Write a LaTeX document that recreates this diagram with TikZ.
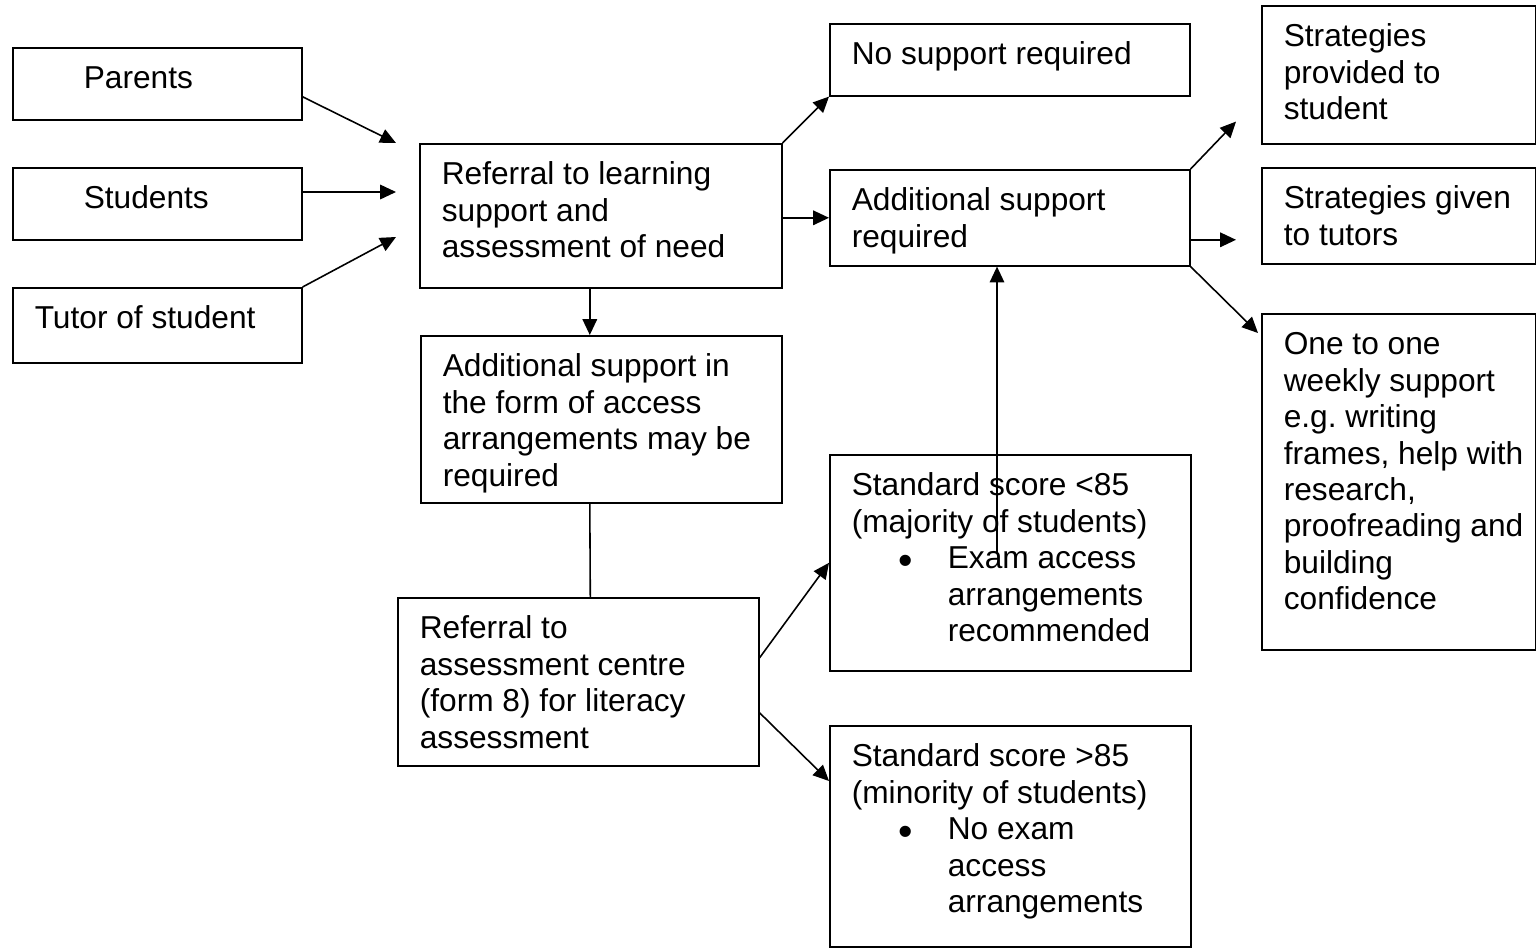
\documentclass[tikz,border=0pt]{standalone}
\usepackage{fontspec}
\setmainfont{Liberation Sans}
\usepackage{tikz}
\usetikzlibrary{arrows.meta, positioning}
\newlength{\px}\setlength{\px}{0.3788pt}
% text of a box: width, height (px), lines
\newcommand{\bx}[3]{\parbox[c][\dimexpr #2\px-31\px\relax][t]{\dimexpr #1\px-44\px\relax}{\begin{tabular}{@{}l@{}}#3\end{tabular}}}
\newcommand{\bulitem}{\makebox[96\px][l]{\hspace*{47\px}\raisebox{-2.2pt}{\scalebox{1.3}{\textbullet}}}}
\newcommand{\bulind}{\hspace*{96\px}}
\newcommand{\drawl}{\draw[line width=0.6pt]}
\tikzset{blk/.style={draw, line width=0.6pt, anchor=north west, inner xsep=22\px, inner ysep=15.5\px, font=\fontsize{12}{13.8}\selectfont}}

\begin{document}
\begin{tikzpicture}[x=1\px, y=-1\px, >={Triangle[length=6pt,width=5.5pt]}]
\useasboundingbox (0,0) rectangle (1536,948);
% Nguon gioi thieu
\node[blk] (parents) at (12,47) {\bx{289}{72}{\hspace*{49\px}Parents}};
\node[blk] (students) at (12,167) {\bx{289}{72}{\hspace*{49\px}Students}};
\node[blk] (tutor) at (12,287) {\bx{289}{75}{Tutor of student}};
% Cot giua
\node[blk] (referral) at (419,143) {\bx{362}{144}{Referral to learning\\ support and\\ assessment of need}};
\node[blk] (access) at (420,335) {\bx{361}{167}{Additional support in\\ the form of access\\ arrangements may be\\ required}};
\node[blk] (centre) at (397,597) {\bx{361}{168}{Referral to\\ assessment centre\\ (form 8) for literacy\\ assessment}};
\node[blk] (nosupport) at (829,23) {\bx{360}{72}{No support required}};
\node[blk] (addsupport) at (829,169) {\bx{360}{96}{Additional support\\ required}};
\node[blk] (low) at (829,454) {\bx{361}{216}{Standard score <85\\ (majority of students)\\ \bulitem Exam access\\ \bulind arrangements\\ \bulind recommended}};
\node[blk] (high) at (829,725) {\bx{361}{221}{Standard score >85\\ (minority of students)\\ \bulitem No exam\\ \bulind access\\ \bulind arrangements}};
% Cot phai
\node[blk] (strat1) at (1261,5) {\bx{274}{138}{Strategies\\ provided to\\ student}};
\node[blk] (strat2) at (1261,167) {\bx{274}{96}{Strategies given\\ to tutors}};
\node[blk] (onetoone) at (1261,313) {\bx{274}{336}{One to one\\ weekly support\\ e.g.\ writing\\ frames, help with\\ research,\\ proofreading and\\ building\\ confidence}};
% Dau mui ten tu do
\coordinate (in1) at ([xshift=-23\px]referral.north west);
\coordinate (in2) at ([xshift=-23\px, yshift=-49\px]referral.north west);
\coordinate (in3) at ([xshift=-23\px, yshift=-94\px]referral.north west);
\coordinate (out1) at ([xshift=-25\px, yshift=23\px]strat1.south west);
\coordinate (out2) at ([xshift=-25\px, yshift=-24\px]strat2.west);
\coordinate (up) at ([xshift=168\px, yshift=-99\px]low.north west);
% Mui ten
\drawl[->] ([yshift=-13\px]parents.east) -- (in1);
\drawl[->] (in2 -| students.east) -- (in2);
\drawl[->] (tutor.north east) -- (in3);
\drawl[->] (referral.north east) -- (nosupport.south west);
\drawl[->] (referral.east |- addsupport.west) -- (addsupport.west);
\drawl[->] ([xshift=-11\px]referral.south) -- ([xshift=-11.5\px]access.north);
\drawl ([xshift=-11.5\px]access.south) -- ([xshift=12\px]centre.north);
\drawl[->] ([yshift=24\px]centre.east) -- (low.west);
\drawl[->] ([yshift=-31\px]centre.east) -- ([yshift=-56\px]high.north west);
\drawl[->] (up) -- (up |- addsupport.south);
\drawl[->] (addsupport.north east) -- (out1);
\drawl[->] (addsupport.east |- out2) -- (out2);
\drawl[->] (addsupport.south east) -- ([xshift=-3\px, yshift=-20\px]onetoone.north west);

\end{tikzpicture}
\end{document}
